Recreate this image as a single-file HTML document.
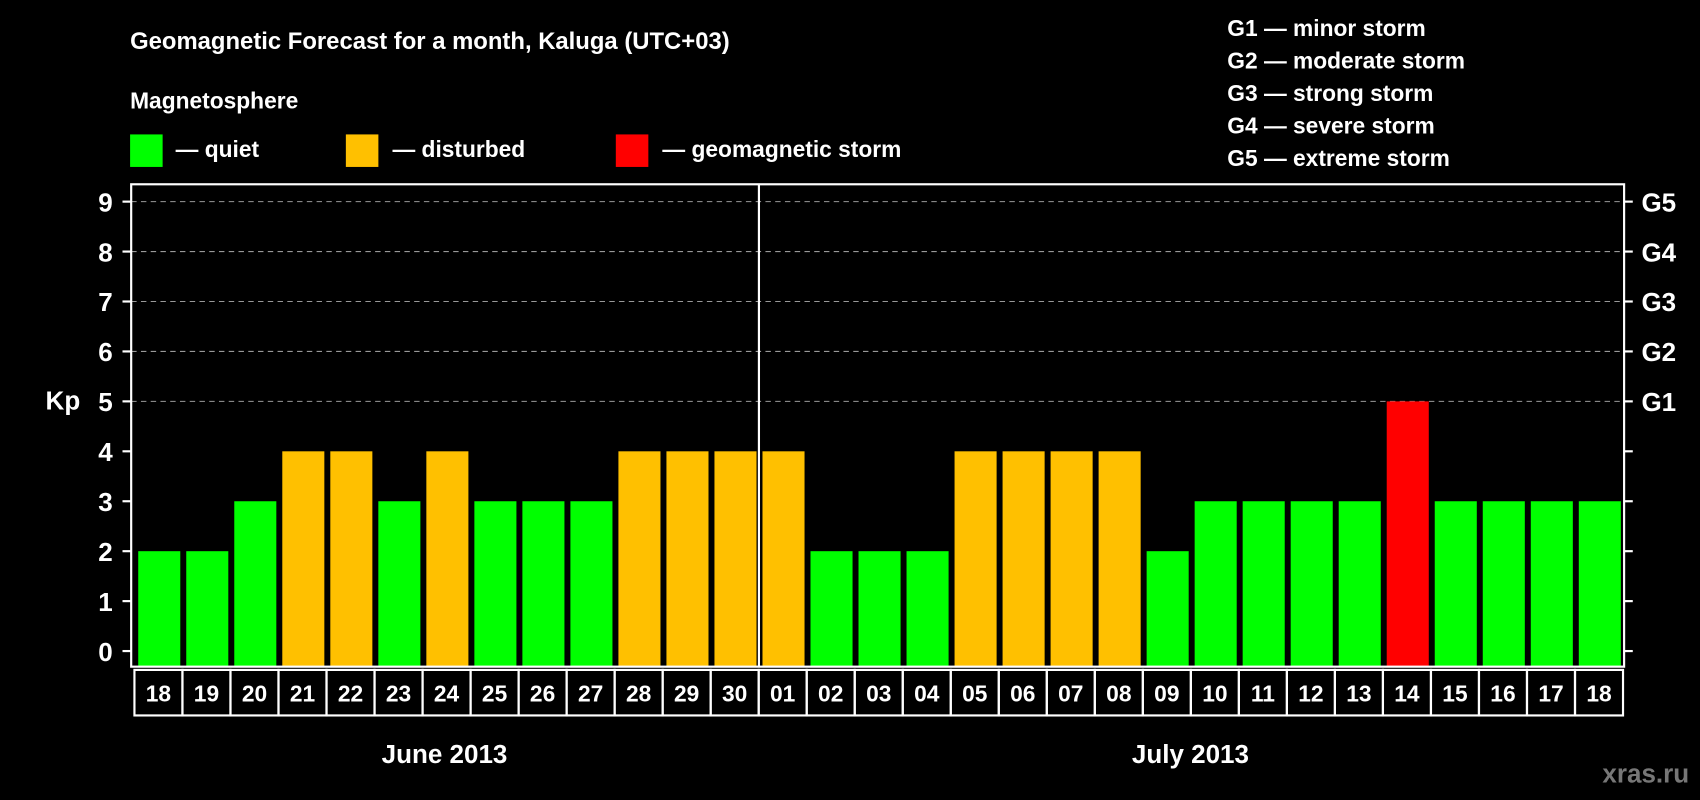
<!DOCTYPE html>
<html><head><meta charset="utf-8"><style>
html,body{margin:0;padding:0;background:#000;}
svg{display:block;font-family:"Liberation Sans",sans-serif;font-weight:bold;}
</style></head><body>
<svg id="chart" width="1700" height="800" viewBox="0 0 1568 738" preserveAspectRatio="none" xmlns="http://www.w3.org/2000/svg">
<rect width="1568" height="738" fill="#000"/>
<text x="120" y="45" fill="#fff" font-size="22">Geomagnetic Forecast for a month, Kaluga (UTC+03)</text>
<text x="120" y="100" fill="#fff" font-size="21">Magnetosphere</text>
<g><rect x="120" y="124" width="30" height="30" fill="#00ff00"/><text x="162" y="145" fill="#fff" font-size="21">— quiet</text></g>
<g><rect x="319" y="124" width="30" height="30" fill="#ffc000"/><text x="362" y="145" fill="#fff" font-size="21">— disturbed</text></g>
<g><rect x="568" y="124" width="30" height="30" fill="#ff0000"/><text x="611" y="145" fill="#fff" font-size="21">— geomagnetic storm</text></g>
<g fill="#fff" font-size="21">
<text x="1132" y="33">G1 — minor storm</text>
<text x="1132" y="63">G2 — moderate storm</text>
<text x="1132" y="93">G3 — strong storm</text>
<text x="1132" y="123">G4 — severe storm</text>
<text x="1132" y="153">G5 — extreme storm</text>
</g>
<text x="58" y="378" fill="#fff" font-size="24" text-anchor="middle">Kp</text>
<g id="grid"></g>
<g id="bars"></g>
<g id="cells"></g>
<rect x="121" y="170" width="1377" height="445" fill="none" stroke="#fff" stroke-width="2"/>
<line x1="700" y1="170" x2="700" y2="615" stroke="#fff" stroke-width="2"/>
<text x="410" y="704" fill="#fff" font-size="24" text-anchor="middle">June 2013</text>
<text x="1098" y="704" fill="#fff" font-size="24" text-anchor="middle">July 2013</text>
<text x="1558" y="722" fill="#777" font-size="24" text-anchor="end">xras.ru</text>
</svg>
<script>
const days = ["18","19","20","21","22","23","24","25","26","27","28","29","30","01","02","03","04","05","06","07","08","09","10","11","12","13","14","15","16","17","18"];
const kp = [2,2,3,4,4,3,4,3,3,3,4,4,4,4,2,2,2,4,4,4,4,2,3,3,3,3,5,3,3,3,3];
const status = ["q","q","q","d","d","q","d","q","q","q","d","d","d","d","q","q","q","d","d","d","d","q","q","q","q","q","s","q","q","q","q"];
const yTicks = ["0","1","2","3","4","5","6","7","8","9"];
const gLabels = ["G1","G2","G3","G4","G5"];
const NS="http://www.w3.org/2000/svg";
const y0=600.6, unit=(600.6-186)/9, x0=124, cw=(1497-124)/31;
const yS=v=>y0-v*unit, xS=i=>x0+i*cw;
const colors={q:"#00ff00",d:"#ffc000",s:"#ff0000"};
function mk(t,a,p){const e=document.createElementNS(NS,t);for(const k in a)e.setAttribute(k,a[k]);p.appendChild(e);return e;}
const grid=document.getElementById('grid'),bars=document.getElementById('bars'),cells=document.getElementById('cells');
yTicks.forEach((t,i)=>{const y=yS(+t);
 if(i>=5){const l=mk('line',{x1:121,x2:1498,y1:y,y2:y,stroke:'#999','stroke-dasharray':'5,4','stroke-width':1},grid);
 
 }
 mk('line',{x1:113,x2:121,y1:y,y2:y,stroke:'#fff','stroke-width':2},grid);
 mk('line',{x1:1498,x2:1506,y1:y,y2:y,stroke:'#fff','stroke-width':2},grid);
 const tx=mk('text',{x:104,y:y+9,fill:'#fff','font-size':24,'text-anchor':'end'},grid);tx.textContent=t;
 
 
});
gLabels.forEach((g,i)=>{const y=yS(5+i);const tx=mk('text',{x:1514,y:y+9,fill:'#fff','font-size':24},grid);tx.textContent=g;
 
 });
kp.forEach((v,i)=>{const r=mk('rect',{x:xS(i)+3.5,y:yS(v),width:cw-5.5,height:615-yS(v),fill:colors[status[i]]},bars);
 
 });
days.forEach((d,i)=>{mk('rect',{x:xS(i),y:618,width:cw,height:42,fill:'none',stroke:'#fff','stroke-width':2},cells);
 const tx=mk('text',{x:xS(i)+cw/2,y:647,fill:'#fff','font-size':21,'text-anchor':'middle'},cells);tx.textContent=d;
 
 });
</script>
</body></html>
